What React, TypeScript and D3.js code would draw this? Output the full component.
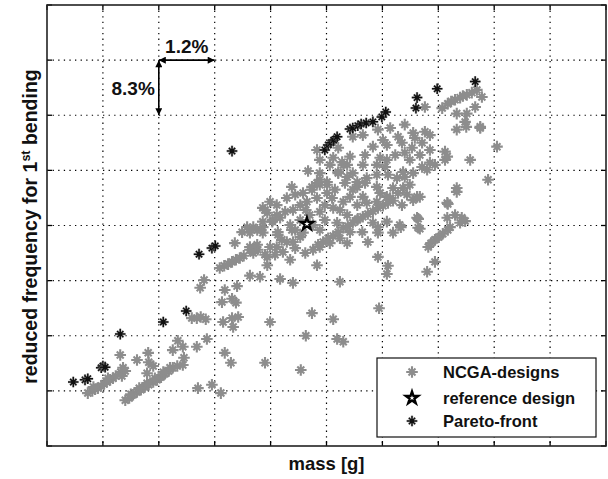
import React from 'react';
import * as d3 from 'd3';

// no tick labels in the original, so mass / frequency are in arbitrary grid units
const xDomain = [0, 10];
const yDomain = [0, 8];
const legendLabels = ['NCGA-designs', 'reference design', 'Pareto-front'];

// [mass, reduced frequency]
const ncgaLowBands: [number, number][] = [
  [0.73, 0.96], [0.81, 1.0], [0.86, 1.03], [0.91, 1.05], [0.97, 1.09], [1.02, 1.13], [1.07, 1.16],
  [1.13, 1.2], [1.18, 1.23], [1.23, 1.27], [0.83, 1.07], [1.09, 1.23], [1.32, 1.34], [1.36, 1.42],
  [1.4, 1.36], [1.34, 1.27], [1.31, 1.65],
  [1.4, 0.83], [1.47, 0.87], [1.54, 0.93], [1.61, 0.98], [1.68, 1.02], [1.75, 1.07], [1.82, 1.11],
  [1.9, 1.16], [1.97, 1.2], [2.04, 1.25], [2.11, 1.31], [2.18, 1.36], [2.25, 1.42], [2.33, 1.45],
  [1.5, 0.94], [1.65, 1.05], [1.79, 1.14], [1.93, 1.23], [2.08, 1.34], [2.2, 1.42],
];

const ncgaScattered: [number, number][] = [
  [1.61, 1.56], [1.81, 1.69], [1.82, 1.52], [1.9, 1.45], [1.79, 1.32], [2.25, 1.74], [2.34, 1.91],
  [2.43, 1.8], [2.45, 1.6], [2.43, 1.47], [2.68, 1.8], [2.86, 1.94], [2.7, 1.05], [2.95, 1.11],
  [3.11, 0.96], [2.74, 2.87], [2.81, 3.01], [2.59, 2.32], [2.68, 2.32], [2.75, 2.34], [2.84, 2.3],
  [3.15, 2.25], [3.31, 2.32], [3.33, 2.16], [3.42, 2.34], [3.18, 1.69], [3.29, 1.51], [3.13, 2.61],
  [3.38, 2.6], [3.31, 2.67], [3.18, 2.83], [3.4, 2.9], [3.99, 2.25], [3.9, 1.51], [4.54, 1.38],
  [4.74, 2.41], [5.12, 2.3], [4.63, 2.0], [5.19, 1.94], [5.3, 1.89], [5.24, 2.98], [4.83, 3.28],
  [4.62, 3.5], [3.63, 3.09], [3.81, 3.07], [4.17, 3.03], [4.4, 2.96], [3.94, 3.28], [5.37, 3.68],
  [5.94, 2.5], [5.92, 3.43], [6.1, 3.27], [6.08, 3.12], [5.74, 3.7], [6.94, 3.34], [6.8, 3.16],
];

const ncgaMiddle: [number, number][] = [
  [3.09, 3.23], [3.17, 3.27], [3.24, 3.3], [3.31, 3.34], [3.38, 3.38], [3.45, 3.41], [3.52, 3.45],
  [3.36, 3.68], [3.63, 3.56], [3.7, 3.59], [3.69, 3.5], [3.77, 3.56], [3.9, 3.47], [3.99, 3.61],
  [4.08, 3.47], [4.22, 3.52], [4.35, 3.38], [4.29, 3.7], [4.44, 3.59], [4.53, 3.79], [4.13, 3.83],
  [3.94, 3.43], [3.76, 3.65],
  [3.49, 3.88], [3.58, 3.97], [3.63, 3.87], [3.76, 3.92], [3.86, 3.97], [3.69, 3.97], [3.86, 4.07],
  [4.03, 4.07], [4.17, 4.14], [4.04, 4.1], [3.86, 3.87], [4.13, 3.88], [4.2, 3.74], [4.4, 3.7],
  [4.38, 3.92], [4.58, 3.87], [4.88, 3.92], [4.97, 4.1], [4.88, 4.25], [5.12, 4.32], [5.3, 4.43],
  [5.42, 4.52], [5.55, 4.37], [5.37, 4.19], [5.19, 4.05], [5.55, 4.1], [5.42, 3.88], [5.24, 3.77],
  [5.06, 3.68], [4.88, 3.61], [3.63, 3.61], [4.11, 3.61], [3.86, 4.32], [3.99, 4.43], [4.11, 4.37],
  [4.29, 4.5], [4.44, 4.56], [4.58, 4.59], [4.74, 4.65], [4.88, 4.74], [5.01, 4.79], [3.94, 4.23],
  [3.9, 4.28], [4.11, 4.19], [4.26, 4.25], [4.4, 4.28], [4.53, 4.37], [4.65, 4.43], [4.83, 4.5],
  [5.01, 4.59], [5.15, 4.65], [5.33, 4.77], [5.55, 4.7], [4.83, 4.77], [4.38, 4.7], [4.67, 4.99],
  [4.83, 5.37], [4.88, 4.95], [5.06, 5.1], [5.21, 4.97], [5.37, 5.1], [5.47, 4.95], [4.44, 3.92],
  [4.35, 4.01], [4.53, 4.1], [4.7, 4.19], [4.76, 4.01], [4.63, 4.28], [4.97, 4.37], [5.24, 4.28],
  [5.1, 4.5],
  [4.76, 3.56], [4.85, 3.65], [4.94, 3.7], [5.03, 3.77], [5.12, 3.81], [5.21, 3.88], [5.3, 3.96],
  [5.38, 3.99], [5.47, 4.05], [5.56, 4.12], [5.65, 4.16], [5.74, 4.21], [5.83, 4.26], [5.92, 4.32],
  [6.01, 4.36], [6.1, 4.41], [6.19, 4.45], [5.64, 3.88], [5.92, 3.97], [6.08, 4.07], [6.19, 3.87],
  [6.35, 4.37], [6.55, 4.46], [6.62, 4.14], [6.64, 3.96], [5.72, 4.41], [5.96, 4.59], [6.19, 4.68],
  [6.49, 4.74], [5.92, 3.87], [5.83, 4.05],
];

const ncgaUpper: [number, number][] = [
  [5.47, 5.61], [5.65, 5.64], [5.92, 5.74], [6.14, 5.77], [6.4, 5.83], [6.55, 5.68], [6.76, 5.7],
  [6.85, 5.64], [6.28, 5.61], [6.01, 5.55], [6.08, 5.46], [6.35, 5.5], [6.58, 5.59], [6.71, 5.5],
  [6.53, 5.41], [6.4, 5.32], [6.23, 5.28], [5.83, 5.43], [5.69, 5.28], [5.65, 5.1], [5.42, 5.25],
  [5.3, 5.1], [5.9, 5.1], [6.08, 5.19], [6.49, 5.19], [6.67, 5.28], [6.85, 5.37], [6.94, 5.1],
  [6.8, 5.01], [6.55, 4.95], [6.37, 4.97], [6.26, 4.86], [6.1, 4.92], [5.9, 4.92], [5.72, 4.86],
  [5.55, 4.79], [5.21, 4.95], [5.12, 5.23], [5.21, 5.41], [7.12, 5.19], [4.88, 5.19], [5.28, 5.15],
  [5.96, 5.23], [6.05, 5.06], [5.37, 4.88], [4.88, 4.83], [4.74, 4.7], [5.01, 4.74], [5.47, 4.65],
  [5.69, 4.77], [5.9, 4.7], [6.4, 4.88], [6.71, 5.06], [6.85, 5.14], [6.37, 4.68], [6.62, 4.52],
  [6.44, 4.56], [6.28, 4.59], [6.14, 4.5], [5.65, 4.52], [5.9, 4.43], [6.08, 4.52], [6.31, 4.01],
  [6.67, 4.52], [7.16, 4.41], [7.12, 5.34], [7.33, 4.68], [7.57, 5.19], [7.89, 4.83], [8.05, 5.43],
  [7.75, 5.77], [7.33, 5.74],
  [7.07, 6.13], [7.17, 6.21], [7.3, 6.28], [7.39, 6.32], [7.51, 6.37], [7.69, 6.46], [6.76, 6.15],
  [7.66, 6.15], [7.33, 6.03], [7.51, 6.03], [7.48, 5.88], [7.5, 5.79], [7.75, 5.79], [7.16, 5.25],
  [7.23, 6.25], [7.44, 6.35], [7.6, 6.41], [7.78, 6.33],
  [7.33, 4.61], [7.17, 4.39], [6.64, 4.12], [6.67, 3.94], [6.33, 3.97], [7.16, 4.14], [7.3, 4.19],
  [7.42, 4.14], [7.48, 4.08], [7.39, 4.05], [7.21, 3.97], [6.82, 3.61], [6.87, 3.68], [6.94, 3.74],
  [7.01, 3.79], [7.08, 3.85], [7.17, 3.92],
];

const paretoFront: [number, number][] = [
  [0.47, 1.16], [0.68, 1.2], [0.73, 1.22], [0.97, 1.42], [1.0, 1.45], [1.04, 1.43], [1.31, 2.03],
  [2.08, 2.25], [2.49, 2.45], [2.72, 3.48], [2.95, 3.59], [3.01, 3.63], [3.31, 5.35], [4.97, 5.37],
  [5.03, 5.46], [5.08, 5.5], [5.13, 5.55], [5.19, 5.61], [5.42, 5.75], [5.47, 5.77], [5.56, 5.81],
  [5.62, 5.84], [5.71, 5.86], [5.83, 5.88], [5.99, 5.97], [6.06, 6.06], [6.6, 6.13], [6.62, 6.32],
  [6.98, 6.48], [7.66, 6.61],
];

const referenceDesign: [number, number] = [4.65, 4.03];

const ncgaDesigns = [...ncgaLowBands, ...ncgaScattered, ...ncgaMiddle, ...ncgaUpper];

const font = '"Liberation Sans", Arial, sans-serif';

function asterisk(r: number) {
  const d = r * 0.6;
  return `M${-r},0H${r}M0,${-r}V${r}M${-d},${-d}L${d},${d}M${-d},${d}L${d},${-d}`;
}

export default function App() {
  const width = 608;
  const height = 479;
  const x = d3.scaleLinear().domain(xDomain).range([47, 606]);
  const y = d3.scaleLinear().domain(yDomain).range([446, 5]);
  const [x0, x1] = x.range();
  const [y0, y1] = y.range();

  const xt = x.ticks(10);
  const yt = y.ticks(8);
  const starPath = d3.symbol(d3.symbolStar, 48)() as string;
  const greyPath = asterisk(5.8);
  const blackPath = asterisk(5.3);

  const grey = '#8d8d8d';

  // legend box
  const lg = { x: 377, y: 358, w: 219, h: 79 };
  const legendRows = [372, 398, 421];

  const pareto = (key: string, tx: number, ty: number) => (
    <g key={key} transform={`translate(${tx},${ty})`}>
      <path d={blackPath} fill="none" stroke="#9a9a9a" strokeWidth={2.6} opacity={0.6} />
      <path d={blackPath} fill="none" stroke="#111" strokeWidth={1.5} />
      <circle r={2} fill="#111" />
    </g>
  );

  return (
    <svg width={width} height={height} style={{ position: 'absolute', left: 0, top: 0, background: '#fff' }}>
      <defs>
        <marker id="ah" viewBox="0 0 10 10" refX="10" refY="5" markerWidth="9" markerHeight="7"
          markerUnits="userSpaceOnUse" orient="auto-start-reverse">
          <path d="M0,0L10,5L0,10z" fill="#000" />
        </marker>
      </defs>
      <rect x={x0} y={y1} width={x1 - x0} height={y0 - y1} fill="#fff" />

      {/* grid */}
      {xt.filter(t => t > xDomain[0] && t < xDomain[1]).map(t => (
        <line key={'gx' + t} x1={x(t)} x2={x(t)} y1={y1} y2={y0} stroke="#000" strokeWidth={1.2} strokeDasharray="1.3 4.3" />
      ))}
      {yt.filter(t => t > yDomain[0] && t < yDomain[1]).map(t => (
        <line key={'gy' + t} x1={x0} x2={x1} y1={y(t)} y2={y(t)} stroke="#000" strokeWidth={1.2} strokeDasharray="1.3 4.3" />
      ))}

      {/* ticks on all four sides */}
      {xt.map(t => (
        <g key={'tx' + t} stroke="#000" strokeWidth={1.3}>
          <line x1={x(t)} x2={x(t)} y1={y0} y2={y0 - 5} />
          <line x1={x(t)} x2={x(t)} y1={y1} y2={y1 + 5} />
        </g>
      ))}
      {yt.map(t => (
        <g key={'ty' + t} stroke="#000" strokeWidth={1.3}>
          <line x1={x0} x2={x0 + 5} y1={y(t)} y2={y(t)} />
          <line x1={x1} x2={x1 - 5} y1={y(t)} y2={y(t)} />
        </g>
      ))}

      {/* scatter */}
      <g fill="none" stroke={grey} strokeWidth={2.1}>
        {ncgaDesigns.map((d, i) => (
          <path key={'n' + i} d={greyPath} transform={`translate(${x(d[0])},${y(d[1])})`} />
        ))}
      </g>
      <g>
        {paretoFront.map((d, i) => pareto('p' + i, x(d[0]), y(d[1])))}
      </g>
      <path d={starPath} transform={`translate(${x(referenceDesign[0])},${y(referenceDesign[1])})`}
        fill="#fff" stroke="#000" strokeWidth={2.3} />

      {/* frame */}
      <rect x={x0} y={y1} width={x1 - x0} height={y0 - y1} fill="none" stroke="#222" strokeWidth={1.6} />

      {/* annotation arrows */}
      <line x1={x(2)} y1={y(7)} x2={x(3)} y2={y(7)} stroke="#000" strokeWidth={1.6}
        markerStart="url(#ah)" markerEnd="url(#ah)" />
      <line x1={x(2)} y1={y(7)} x2={x(2)} y2={y(6)} stroke="#000" strokeWidth={1.6}
        markerStart="url(#ah)" markerEnd="url(#ah)" />
      <text x={x(2.5)} y={y(7) - 7} textAnchor="middle" fontFamily={font} fontWeight="bold" fontSize={19} fill="#111">1.2%</text>
      <text x={x(2) - 4} y={y(6.5) + 7} textAnchor="end" fontFamily={font} fontWeight="bold" fontSize={19} fill="#111">8.3%</text>

      {/* legend */}
      <rect x={lg.x} y={lg.y} width={lg.w} height={lg.h} fill="#fff" stroke="#111" strokeWidth={1.2} />
      <path d={greyPath} transform={`translate(412,${legendRows[0]})`} fill="none" stroke={grey} strokeWidth={2.1} />
      <path d={starPath} transform={`translate(412,${legendRows[1]})`} fill="#fff" stroke="#000" strokeWidth={2.3} />
      {pareto('lp', 412, legendRows[2])}
      {legendLabels.map((l, i) => (
        <text key={l} x={443} y={legendRows[i] + 6} fontFamily={font} fontWeight="bold" fontSize={16.5} fill="#111">{l}</text>
      ))}

      {/* axis labels */}
      <text x={(x0 + x1) / 2} y={470} textAnchor="middle" fontFamily={font} fontWeight="bold" fontSize={18.5} fill="#111">mass [g]</text>
      <text transform={`translate(37,${(y0 + y1) / 2 + 1}) rotate(-90)`} textAnchor="middle" fontFamily={font}
        fontWeight="bold" fontSize={19.5} fill="#111">
        reduced frequency for 1<tspan dy={-7} fontSize={12.5}>st</tspan><tspan dy={7}> bending</tspan>
      </text>
    </svg>
  );
}
